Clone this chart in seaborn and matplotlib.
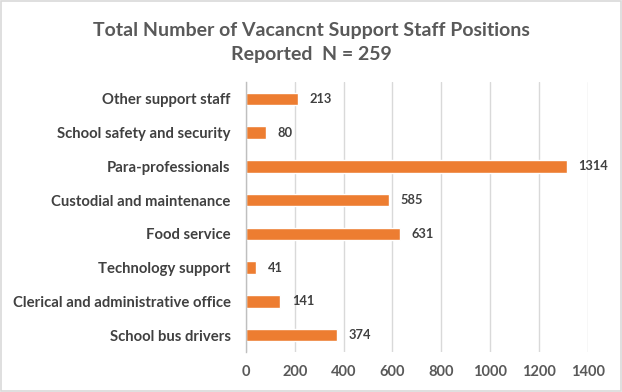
import matplotlib
matplotlib.use("Agg")
import matplotlib.pyplot as plt
import seaborn as sns
import pandas as pd
from matplotlib.patches import Rectangle

categories = ["Other support staff", "School safety and security", "Para-professionals",
              "Custodial and maintenance", "Food service", "Technology support",
              "Clerical and administrative office", "School bus drivers"]
values = [213, 80, 1314, 585, 631, 41, 141, 374]
x_ticks = [0, 200, 400, 600, 800, 1000, 1200, 1400]

sns.set_theme(style="white")
plt.rcParams['font.family'] = ['Lato', 'DejaVu Sans']

df = pd.DataFrame({"cat": categories, "val": values})

fig = plt.figure(figsize=(6.22, 3.92), dpi=100)
ax = fig.add_axes([0.3955, 0.102, 0.5495, 0.689])
sns.barplot(data=df, y="cat", x="val", orient="h", color="#ED7D31", saturation=1,
            width=0.37, ax=ax)

ax.set_xlim(0, 1400)
ax.set_ylim(7.5, -0.5)
ax.set_xticks(x_ticks)
ax.set_xticklabels([str(t) for t in x_ticks], fontsize=10.5, fontweight="bold", color="#595959")
ax.tick_params(axis="y", labelsize=10.7, labelcolor="#404040", length=0, pad=11)
for lab in ax.get_yticklabels():
    lab.set_fontweight("bold")
ax.tick_params(axis="x", length=0, pad=9)
ax.set_xlabel("")
ax.set_ylabel("")
ax.grid(axis="x", color="#D9D9D9", linewidth=1)
ax.set_axisbelow(True)
for s in ["top", "right", "bottom"]:
    ax.spines[s].set_visible(False)
ax.spines["left"].set_color("#BFBFBF")
ax.spines["left"].set_linewidth(1)

for i, v in enumerate(values):
    ax.text(v + 48, i, str(v), va="center", ha="left", fontsize=9.3,
            fontweight="bold", color="#404040")

fig.text(0.5, 0.945, "Total Number of Vacancnt Support Staff Positions\nReported  N = 259",
         ha="center", va="top", fontsize=14, fontweight="bold", color="#595959",
         linespacing=1.55)

fig.patches.append(Rectangle((0.002, 0.003), 0.996, 0.994, transform=fig.transFigure,
                             fill=False, edgecolor="#D9D9D9", linewidth=1.2))

fig.savefig("out.png", dpi=100)
